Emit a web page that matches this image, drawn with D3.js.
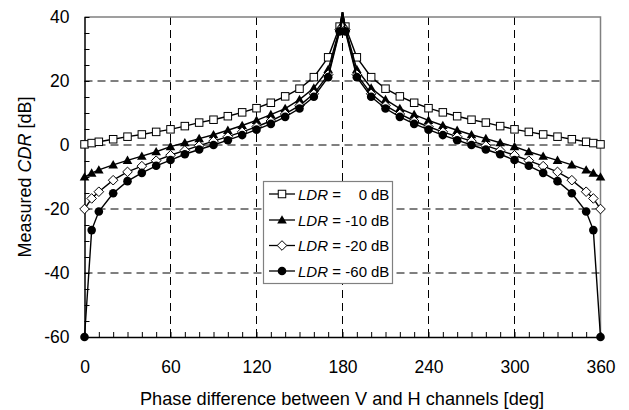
<!DOCTYPE html>
<html>
<head>
<meta charset="utf-8">
<script src="https://cdn.jsdelivr.net/npm/d3@7"></script>
<style>
  body { margin: 0; background: #fff; }
  svg text { font-family: "Liberation Sans", Arial, sans-serif; fill: #000; }
</style>
</head>
<body>
<div class="chart"></div>
<script>
// phase difference [deg]
const phase = [0, 5, 10, 20, 30, 40, 50, 60, 70, 80, 90, 100, 110, 120, 130, 140, 150, 160, 170, 178, 180,
  182, 190, 200, 210, 220, 230, 240, 250, 260, 270, 280, 290, 300, 310, 320, 330, 340, 350, 355, 360]

// measured CDR [dB] per LDR
const cdrLdr0 = [0.2, 0.6, 1.0, 1.8, 2.6, 3.3, 4.1, 4.9, 5.9, 7.0, 7.9, 9.0, 10.2, 11.5, 13.2, 15.2, 17.6, 21.2, 27.4, 37.0, 41.5,
  37.0, 27.4, 21.2, 17.6, 15.2, 13.2, 11.5, 10.2, 9.0, 7.9, 7.0, 5.9, 4.9, 4.1, 3.3, 2.6, 1.8, 1.0, 0.6, 0.2]
const cdrLdr10 = [-10, -8.8, -7.8, -6.2, -4.8, -3.5, -2.1, -0.5, 0.7, 2.0, 3.2, 4.6, 6.1, 7.7, 9.5, 11.4, 14.2, 17.8, 23.6, 36.5, 41.5,
  36.5, 23.6, 17.8, 14.2, 11.4, 9.5, 7.7, 6.1, 4.6, 3.2, 2.0, 0.7, -0.5, -2.1, -3.5, -4.8, -6.2, -7.8, -8.8, -10]
const cdrLdr20 = [-20, -16.7, -14.6, -11.0, -8.4, -6.6, -4.9, -3.2, -1.7, -0.2, 1.2, 2.6, 4.1, 5.7, 7.5, 9.7, 12.3, 16.0, 22.0, 36.0, 41.5,
  36.0, 22.0, 16.0, 12.3, 9.7, 7.5, 5.7, 4.1, 2.6, 1.2, -0.2, -1.7, -3.2, -4.9, -6.6, -8.4, -11.0, -14.6, -16.7, -20]
const cdrLdr60 = [-60, -26.6, -20.8, -15.1, -11.3, -8.7, -6.5, -4.7, -2.9, -1.4, 0.0, 1.5, 3.1, 4.8, 6.6, 8.8, 11.4, 15.1, 21.2, 35.5, 41.5,
  35.5, 21.2, 15.1, 11.4, 8.8, 6.6, 4.8, 3.1, 1.5, 0.0, -1.4, -2.9, -4.7, -6.5, -8.7, -11.3, -15.1, -20.8, -26.6, -60]

const seriesNames = ['0', '-10', '-20', '-60']
const seriesValues = [cdrLdr0, cdrLdr10, cdrLdr20, cdrLdr60]
const seriesMarkers = ['square', 'triangle', 'diamond', 'circle']

const xTicks = [0, 60, 120, 180, 240, 300, 360]
const yTicks = [-60, -40, -20, 0, 20, 40]

const svg_width = 629
const svg_height = 410
const plot = { left: 84.5, right: 600.5, top: 17, bottom: 337 }

const svg = d3.select('.chart').append('svg')
  .attr('width', svg_width).attr('height', svg_height)

const xScale = d3.scaleLinear([0, 360], [plot.left, plot.right])
const yScale = d3.scaleLinear([-60, 40], [plot.bottom, plot.top])

// grid (dashed)
const grid = svg.append('g').attr('class', 'grid')
grid.selectAll('.gx').data(xTicks.filter(d => d > 0 && d < 360)).join('line')
  .attr('x1', d => xScale(d)).attr('x2', d => xScale(d))
  .attr('y1', plot.top).attr('y2', plot.bottom)
  .attr('stroke', '#000').attr('stroke-width', 1).attr('stroke-dasharray', '8,5')
grid.selectAll('.gy').data(yTicks.filter(d => d > -60 && d < 40)).join('line')
  .attr('x1', plot.left).attr('x2', plot.right)
  .attr('y1', d => yScale(d)).attr('y2', d => yScale(d))
  .attr('stroke', '#000').attr('stroke-width', 1).attr('stroke-dasharray', '8,5')

// top & right frame (grey)
svg.append('path')
  .attr('d', `M${plot.left},${plot.top}H${plot.right}V${plot.bottom}`)
  .attr('fill', 'none').attr('stroke', '#808080').attr('stroke-width', 1.5)

// minor ticks, pointing inward
const xMinor = d3.axisBottom(xScale).tickValues(d3.range(0, 361, 10))
  .tickSizeInner(-5).tickSizeOuter(0).tickFormat('')
svg.append('g').attr('transform', `translate(0,${plot.bottom})`).call(xMinor)
  .call(g => g.select('.domain').attr('stroke-width', 1.5))

const yMinor = d3.axisLeft(yScale).tickValues(d3.range(-60, 41, 5))
  .tickSizeInner(-5).tickSizeOuter(0).tickFormat('')
svg.append('g').attr('transform', `translate(${plot.left},0)`).call(yMinor)
  .call(g => g.select('.domain').attr('stroke-width', 1.5))

// tick labels (plain hyphen for negatives, as in the original)
const xAxis = d3.axisBottom(xScale).tickValues(xTicks).tickSize(0).tickPadding(24)
  .tickFormat(d => String(d))
svg.append('g').attr('transform', `translate(0,${plot.bottom})`).call(xAxis)
  .call(g => g.select('.domain').remove())
  .call(g => g.selectAll('text').attr('font-size', 17.5).attr('font-family', null))

const yAxis = d3.axisLeft(yScale).tickValues(yTicks).tickSize(0).tickPadding(15)
  .tickFormat(d => String(d))
svg.append('g').attr('transform', `translate(${plot.left},0)`).call(yAxis)
  .call(g => g.select('.domain').remove())
  .call(g => g.selectAll('text').attr('font-size', 17.5).attr('font-family', null))

// axis titles
svg.append('text')
  .attr('x', (plot.left + plot.right) / 2 - 0.5).attr('y', 405)
  .attr('text-anchor', 'middle').attr('font-size', 18.2)
  .text('Phase difference between V and H channels [deg]')

const yTitle = svg.append('text')
  .attr('transform', `translate(31,${(plot.top + plot.bottom) / 2}) rotate(-90)`)
  .attr('text-anchor', 'middle').attr('font-size', 18)
yTitle.append('tspan').text('Measured ')
yTitle.append('tspan').attr('font-style', 'italic').text('CDR')
yTitle.append('tspan').text(' [dB]')

// markers
function drawMarker(g, kind) {
  if (kind === 'square') {
    g.append('rect').attr('x', -3.75).attr('y', -3.75).attr('width', 7.5).attr('height', 7.5)
      .attr('fill', '#fff').attr('stroke', '#000').attr('stroke-width', 1)
  } else if (kind === 'triangle') {
    g.append('path').attr('d', 'M0,-4.8L4.8,3.6L-4.8,3.6Z').attr('fill', '#000')
  } else if (kind === 'diamond') {
    g.append('path').attr('d', 'M0,-4.8L4.8,0L0,4.8L-4.8,0Z')
      .attr('fill', '#fff').attr('stroke', '#000').attr('stroke-width', 1)
  } else {
    g.append('circle').attr('r', 4.3).attr('fill', '#000')
  }
}

const line = d3.line().x(d => xScale(d[0])).y(d => yScale(d[1]))

const series = svg.append('g').attr('class', 'series')
seriesValues.forEach((vals, i) => {
  const pts = phase.map((p, j) => [p, vals[j]])
  series.append('path').datum(pts)
    .attr('d', line)
    .attr('fill', 'none').attr('stroke', '#000').attr('stroke-width', 1.4)
  pts.filter(d => d[1] <= 40).forEach(d => {
    const g = series.append('g').attr('transform', `translate(${xScale(d[0])},${yScale(d[1])})`)
    drawMarker(g, seriesMarkers[i])
  })
})

// legend
const legend = svg.append('g').attr('class', 'legend')
legend.append('rect')
  .attr('x', 263.5).attr('y', 181.5).attr('width', 129).attr('height', 102)
  .attr('fill', '#fff').attr('stroke', '#808080').attr('stroke-width', 1.2)
const rowY = [194, 220, 245.5, 271]
seriesNames.forEach((name, i) => {
  const row = legend.append('g').attr('transform', `translate(0,${rowY[i]})`)
  row.append('line').attr('x1', 269).attr('x2', 295).attr('y1', 0).attr('y2', 0)
    .attr('stroke', '#000').attr('stroke-width', 1.3)
  drawMarker(row.append('g').attr('transform', 'translate(282,0)'), seriesMarkers[i])
  const t = row.append('text').attr('x', 298).attr('y', 5.5).attr('font-size', 15)
  t.append('tspan').attr('font-style', 'italic').text('LDR')
  t.append('tspan').text(' =')
  row.append('text').attr('x', 367).attr('y', 5.5).attr('font-size', 15)
    .attr('text-anchor', 'end').text(name)
  row.append('text').attr('x', 371).attr('y', 5.5).attr('font-size', 15).text('dB')
})
</script>
</body>
</html>
